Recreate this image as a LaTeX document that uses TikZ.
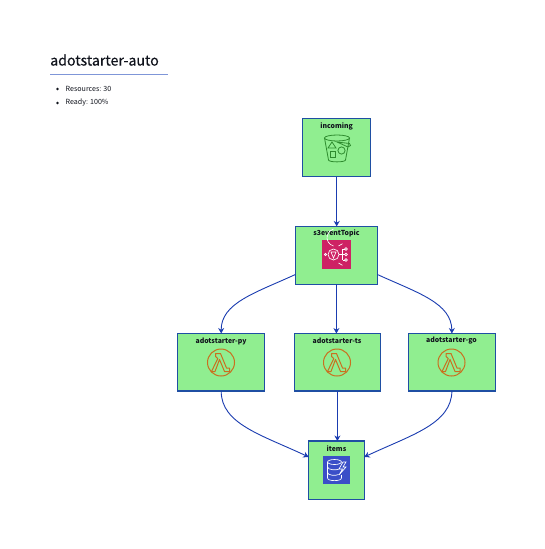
\documentclass[tikz,border=0pt]{standalone}
\usepackage{fontspec}
\setmainfont{Noto Sans CJK SC}
\newfontfamily\titlefont{Noto Sans CJK SC}[FakeBold=0.2]
\usetikzlibrary{arrows.meta,calc}
\definecolor{boxfill}{HTML}{90EE90}
\definecolor{boxedge}{HTML}{1F4FA3}
\definecolor{flow}{HTML}{1A3CB0}
\definecolor{txt}{HTML}{10131C}
\definecolor{rulec}{HTML}{7F96D8}
\definecolor{lam}{HTML}{C9701F}
\definecolor{s3c}{HTML}{2E8B2E}
\definecolor{snsbg}{HTML}{CE2264}
\definecolor{ddbbg}{HTML}{3B4FC8}
\tikzset{
  resbox/.style={draw=boxedge,fill=boxfill,line width=1.1pt,minimum width=#1,inner sep=0pt,outer sep=0pt,anchor=north west},
  lbl/.style={font=\fontsize{6.9}{9}\selectfont\bfseries,text=txt,inner sep=0pt},
  flowline/.style={draw=flow,line width=0.9pt,-{Stealth[length=5.5pt,width=6pt]}},
  lamline/.style={draw=lam,line width=1pt},
  s3line/.style={draw=s3c,line width=0.8pt},
  whiteline/.style={draw=white,line width=0.65pt},
  bullet/.style={font=\fontsize{7.1}{9}\selectfont,text=txt,inner sep=0pt,anchor=west}
}
\newcommand{\lambdaicon}[1]{%
  \begin{scope}[shift={(#1)}]
    \draw[lamline] (0,0) circle (13.5);
    \draw[lamline,line join=round] (-5.5,-9) -- (-0.5,-9) -- (5.5,5.5) -- (8.5,5.5) -- (8.5,9) -- (3.5,9) -- (-1.5,-3) -- (-6,9) -- (-9.5,9) -- (-3.2,-4) -- (-5.5,-6) -- cycle;
  \end{scope}}
\begin{document}
\begin{tikzpicture}[x=1pt,y=-1pt]
\useasboundingbox (0,0) rectangle (545,549);
\fill[white] (0,0) rectangle (545,549);
% heading
\node[font=\fontsize{14.2}{18}\selectfont\titlefont,text=txt,inner sep=0pt,anchor=west] (title) at (50,60) {adotstarter-auto};
\coordinate (ruleL) at (50,74.5);
\coordinate (ruleR) at (167.5,74.5);
\draw[rulec,line width=0.8pt] (ruleL) -- (ruleR);
\node[bullet] (res) at (65.5,89) {Resources: 30};
\node[bullet] (rdy) at (65.5,103) {Ready: 100\%};
\fill[txt] (57.5,89) circle (1.4);
\fill[txt] (57.5,103) circle (1.4);
% boxes
\node[resbox=68pt,minimum height=58pt] (incoming) at (302.7,118.5) {};
\node[resbox=82pt,minimum height=58pt] (s3) at (295.4,226.4) {};
\node[resbox=87pt,minimum height=57.5pt] (py) at (177.7,333.5) {};
\node[resbox=86pt,minimum height=57.5pt] (ts) at (294.4,333.5) {};
\node[resbox=87pt,minimum height=57.5pt] (go) at (408.4,333.5) {};
\node[resbox=55.5pt,minimum height=58.5pt] (items) at (308.7,441) {};
% labels
\node[lbl] (l1) at (336.7,126.5) {incoming};
\node[lbl] (l2) at (336.5,233) {s3eventTopic};
\node[lbl] (l3) at (221,341) {adotstarter-py};
\node[lbl] (l4) at (337,341) {adotstarter-ts};
\node[lbl] (l5) at (451.5,341) {adotstarter-go};
\node[lbl] (l6) at (336.5,448.5) {items};
% connectors
\coordinate (s3L) at (295.4,274.5);
\coordinate (s3R) at (377.4,274.5);
\coordinate (itL) at (308.7,457);
\coordinate (itR) at (364.2,457);
\draw[flowline] (incoming.south) -- (incoming.south |- s3.north);
\draw[flowline] (s3.south) -- (s3.south |- ts.north);
\draw[flowline] (ts.south) -- (ts.south |- items.north);
\draw[flowline] (s3L) .. controls (255,293) and (221,303) .. (py.north);
\draw[flowline] (s3R) .. controls (418,293) and (451.5,303) .. (go.north);
\draw[flowline] (py.south) .. controls (221,424) and (262,435) .. (itL);
\draw[flowline] (go.south) .. controls (451.5,424) and (411,435) .. (itR);
% s3 bucket icon
\begin{scope}[shift={(337,148)}]
  \draw[s3line] (0,-10) ellipse (12.5 and 3);
  \draw[s3line] (-12.5,-10) -- (-8.5,12) .. controls (-8,14.5) and (8,14.5) .. (8.5,12) -- (12.5,-10);
  \draw[s3line] (-5,-6) -- (-9,0) -- (-1,0) -- cycle;
  \draw[s3line] (-7,3.5) rectangle (-1.5,9);
  \draw[s3line] (4.5,2.5) circle (3.6);
  \draw[s3line] (0,-6) -- (11,-1) -- (13.5,-2.5) -- (12.5,-4.5) -- cycle;
\end{scope}
% SNS icon
\fill[snsbg] (322,240) rectangle (351,269);
\begin{scope}[shift={(336.5,254.5)}]
  \draw[whiteline] (-3,-8.5) arc (105:255:8.8);
  \draw[whiteline] (2,-8.5) arc (75:45:8.8);
  \draw[whiteline] (2,8.5) arc (-75:-45:8.8);
  \draw[whiteline] (-3,0) circle (5.5);
  \draw[whiteline] (-5.5,-2.5) -- (-3,3.5) -- (-0.5,-2.5) -- cycle;
  \draw[whiteline] (-11,0) circle (1.2);
  \draw[whiteline] (2.5,0) -- (8,0) (6,-5.5) -- (8,-5.5) (6,5.5) -- (8,5.5) (6,-5.5) -- (6,5.5);
  \draw[whiteline] (9.5,0) circle (1.4) (9.5,-5.5) circle (1.4) (9.5,5.5) circle (1.4);
\end{scope}
% Lambda icons
\lambdaicon{221,362.5}
\lambdaicon{337,362.5}
\lambdaicon{451.5,362.5}
% DynamoDB icon
\fill[ddbbg] (322.5,456) rectangle (350,484);
\begin{scope}[shift={(336,470)}]
  \draw[whiteline] (-1.5,-8) ellipse (7 and 2.5);
  \draw[whiteline] (-8.5,-8) -- (-8.5,8) .. controls (-8.5,11.5) and (5.5,11.5) .. (5.5,8) -- (5.5,5);
  \draw[whiteline] (-8.5,-3) .. controls (-8.5,0) and (1,0.5) .. (3,-1);
  \draw[whiteline] (-8.5,2.5) .. controls (-8.5,5.5) and (0,6) .. (2.5,4.5);
  \draw[whiteline] (7,-8) -- (3,-1) -- (6.5,-1) -- (3,5) -- (10,-3) -- (7,-3) -- (10,-8) -- cycle;
\end{scope}
\end{tikzpicture}
\end{document}
